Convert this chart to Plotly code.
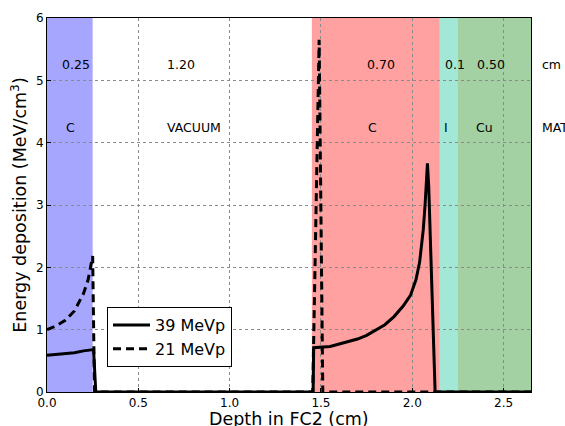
import plotly.graph_objects as go

# Layer data
layer_start = [0.0, 1.45, 2.15, 2.25]
layer_end = [0.25, 2.15, 2.25, 2.75]
layer_colors = ["rgba(0,0,255,0.35)", "rgba(255,0,0,0.37)", "rgba(0,191,140,0.36)", "rgba(0,128,0,0.36)"]

thick_labels = ["0.25", "1.20", "0.70", "0.1", "0.50"]
thick_x = [0.159, 0.734, 1.829, 2.232, 2.429]
mat_labels = ["C", "VACUUM", "C", "I", "Cu"]
mat_x = [0.129, 0.805, 1.78, 2.185, 2.396]
unit_label = "cm"
mat_header = "MAT"

# 39 MeVp
x39 = [0.0, 0.05, 0.1, 0.15, 0.2, 0.25, 0.255, 0.267, 1.45, 1.457, 1.46, 1.5, 1.55, 1.6, 1.65, 1.7, 1.75,
       1.8, 1.85, 1.9, 1.95, 1.99, 2.02, 2.04, 2.05, 2.06, 2.07, 2.078, 2.083, 2.09, 2.1, 2.11, 2.125, 2.65]
y39 = [0.59, 0.6, 0.61, 0.63, 0.66, 0.67, 0.68, 0.0, 0.0, 0.0, 0.71, 0.72, 0.73, 0.77, 0.81, 0.85, 0.91,
       0.99, 1.08, 1.21, 1.38, 1.55, 1.8, 2.08, 2.3, 2.6, 3.0, 3.45, 3.67, 3.3, 2.3, 1.2, 0.0, 0.0]

# 21 MeVp
x21 = [0.0, 0.05, 0.1, 0.15, 0.2, 0.225, 0.25, 0.26, 1.455, 1.49, 1.51, 2.65]
y21 = [1.0, 1.06, 1.15, 1.3, 1.58, 1.8, 2.18, 0.0, 0.0, 5.65, 0.0, 0.0]

xticks = [0.0, 0.5, 1.0, 1.5, 2.0, 2.5]
xtick_text = ["0.0", "0.5", "1.0", "1.5", "2.0", "2.5"]
yticks = [0, 1, 2, 3, 4, 5, 6]
x_title = "Depth in FC2 (cm)"
y_title = "Energy deposition (MeV/cm<sup>3</sup>)"

fig = go.Figure()

for s, e, c in zip(layer_start, layer_end, layer_colors):
    fig.add_shape(type="rect", xref="x", yref="paper", x0=s, x1=e, y0=0, y1=1,
                  fillcolor=c, line=dict(width=0), layer="below")

fig.add_trace(go.Scatter(x=x39, y=y39, mode="lines", name="39 MeVp",
                         line=dict(color="black", width=3)))
fig.add_trace(go.Scatter(x=x21, y=y21, mode="lines", name="21 MeVp",
                         line=dict(color="black", width=3, dash="8px,5px")))

afont = dict(size=12.5, color="black", family="DejaVu Sans")
for t, xx in zip(thick_labels, thick_x):
    fig.add_annotation(x=xx, y=5.26, xref="x", yref="y", text=t, showarrow=False, font=afont)
for t, xx in zip(mat_labels, mat_x):
    fig.add_annotation(x=xx, y=4.25, xref="x", yref="y", text=t, showarrow=False, font=afont)
fig.add_annotation(x=1.019, y=5.26, xref="paper", yref="y", text=unit_label, showarrow=False,
                   xanchor="left", font=afont)
fig.add_annotation(x=1.019, y=4.25, xref="paper", yref="y", text=mat_header, showarrow=False,
                   xanchor="left", font=afont)
# x-axis title placed as paper annotation (reference title sits low, partly past the edge)
fig.add_annotation(x=0.5, y=-0.072, xref="paper", yref="paper", text=x_title, showarrow=False,
                   yanchor="middle", font=dict(size=17.5, color="black", family="DejaVu Sans"))

axis_common = dict(showline=True, linecolor="black", linewidth=1, mirror=True,
                   ticks="inside", ticklen=4, tickcolor="black", automargin=False,
                   showgrid=True, gridcolor="#8a8a8a", griddash="dot", gridwidth=1,
                   zeroline=False, tickfont=dict(size=12, family="DejaVu Sans", color="black"))

fig.update_layout(
    width=565, height=426,
    margin=dict(l=47, r=34, t=18, b=34, autoexpand=False),
    paper_bgcolor="white", plot_bgcolor="white",
    font=dict(family="DejaVu Sans", color="black"),
    xaxis=dict(range=[0, 2.65], tickvals=xticks, ticktext=xtick_text, **axis_common),
    yaxis=dict(range=[0, 6], tickvals=yticks,
               title=dict(text=y_title, font=dict(size=17.5), standoff=4),
               **axis_common),
    legend=dict(x=0.124, y=0.227, xanchor="left", yanchor="top", bgcolor="white",
                bordercolor="black", borderwidth=1, font=dict(size=16), itemwidth=37),
    showlegend=True,
)

fig.write_html("out.html", config={"displayModeBar": False},
               post_script="document.body.style.margin='0px';document.body.style.overflow='hidden';")
